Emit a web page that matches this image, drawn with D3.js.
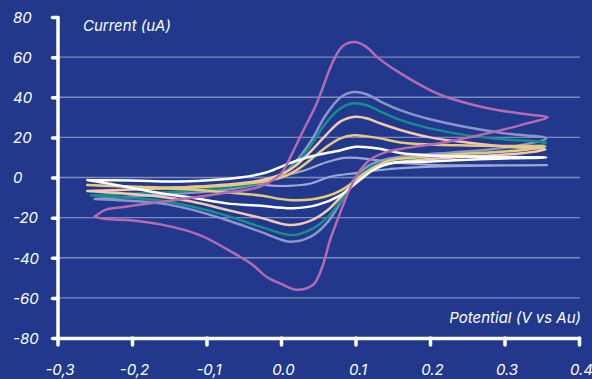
<!DOCTYPE html>
<html>
<head>
<meta charset="utf-8">
<script src="https://cdn.jsdelivr.net/npm/d3@7"></script>
<style>
  html, body { margin: 0; padding: 0; background: #22388c; }
  svg { display: block; }
  text { font-family: Inter, Roboto, "Liberation Sans", sans-serif; font-style: italic; fill: #ffffff; }
</style>
</head>
<body>
<svg id="chart" width="592" height="379"></svg>
<script>
// ---- data (potential in V, current in uA) ----
const xTicks = [-0.3, -0.2, -0.1, 0.0, 0.1, 0.2, 0.3, 0.4];
const xTickLabels = ["-0,3", "-0,2", "-0,1", "0.0", "0.1", "0.2", "0.3", "0.4"];
const yTicks = [80, 60, 40, 20, 0, -20, -40, -60, -80];
const yTickLabels = ["80", "60", "40", "20", "0", "-20", "-40", "-60", "-80"];
const gridValues = [60, 40, 20, 0, -20, -40, -60];

const seriesNames = ["periwinkle", "lavender", "teal", "peach", "gold", "white", "magenta"];
const seriesColors = ["#9ea6d6", "#8e95c8", "#11908c", "#f6c8b0", "#e7c87d", "#ffffff", "#b56bb0"];

const periwinkle = [
  [-0.038,-2.8],[-0.010,-1.0],[0.012,1.5],[0.035,4.0],[0.060,7.5],[0.085,9.8],[0.105,9.7],
  [0.140,8.0],[0.200,6.3],[0.260,6.0],[0.357,6.2],
  [0.300,6.0],[0.230,5.7],[0.180,5.0],[0.140,4.0],[0.100,2.2],[0.066,0.4],[0.040,-3.0],
  [0.010,-4.2],[-0.020,-3.8],[-0.038,-2.8]
];
const lavender = [
  [-0.250,-10.7],[-0.200,-9.5],[-0.136,-8.0],[-0.072,-6.0],[-0.028,-3.0],[0.000,1.0],[0.020,8.0],
  [0.040,18.0],[0.060,31.0],[0.080,40.0],[0.095,42.5],[0.115,41.5],[0.133,38.0],[0.160,33.6],
  [0.200,29.0],[0.250,25.0],[0.300,22.0],[0.356,19.5],
  [0.320,16.0],[0.280,14.0],[0.230,12.5],[0.180,11.0],[0.140,9.0],[0.118,6.0],[0.100,0.0],
  [0.082,-11.0],[0.062,-22.5],[0.040,-29.5],[0.012,-32.0],[-0.028,-27.0],[-0.073,-21.2],
  [-0.120,-16.0],[-0.162,-12.9],[-0.210,-11.5],[-0.250,-10.7]
];
const teal = [
  [-0.255,-9.0],[-0.200,-8.0],[-0.136,-7.0],[-0.072,-5.0],[-0.028,-2.5],[0.000,1.0],[0.020,7.0],
  [0.040,16.0],[0.060,27.0],[0.080,34.5],[0.097,37.0],[0.115,36.0],[0.133,33.0],[0.160,28.7],
  [0.200,24.5],[0.250,21.0],[0.300,19.0],[0.356,17.3],
  [0.320,14.0],[0.280,12.5],[0.230,11.0],[0.180,9.5],[0.140,7.5],[0.118,4.5],[0.100,-1.0],
  [0.082,-10.5],[0.062,-20.0],[0.040,-26.0],[0.015,-28.7],[-0.028,-24.5],[-0.073,-19.0],
  [-0.120,-14.5],[-0.162,-11.5],[-0.210,-10.0],[-0.255,-9.0]
];
const peach = [
  [-0.260,-6.7],[-0.200,-6.0],[-0.136,-5.0],[-0.072,-3.5],[-0.028,-1.5],[0.000,1.5],[0.020,6.0],
  [0.040,13.0],[0.060,21.0],[0.080,28.0],[0.100,30.3],[0.115,29.5],[0.133,27.0],[0.160,23.7],
  [0.200,20.0],[0.250,17.5],[0.300,15.5],[0.355,14.0],
  [0.320,12.0],[0.280,11.0],[0.230,10.0],[0.180,8.5],[0.140,6.5],[0.118,3.5],[0.100,-1.5],
  [0.082,-9.0],[0.062,-16.5],[0.040,-21.5],[0.012,-23.7],[-0.028,-20.0],[-0.072,-16.2],
  [-0.120,-12.0],[-0.162,-9.6],[-0.210,-8.0],[-0.260,-6.7]
];
const gold = [
  [-0.260,-3.8],[-0.200,-4.5],[-0.136,-5.0],[-0.072,-4.0],[-0.024,-2.0],[0.000,0.0],[0.020,3.5],
  [0.040,9.0],[0.060,15.0],[0.080,19.5],[0.097,21.0],[0.115,20.5],[0.133,19.5],[0.160,17.5],
  [0.200,16.5],[0.250,16.0],[0.300,15.7],[0.355,15.4],
  [0.320,13.5],[0.280,12.5],[0.230,11.5],[0.180,10.0],[0.146,8.5],[0.122,4.5],[0.100,-1.5],
  [0.080,-6.5],[0.060,-9.5],[0.040,-11.0],[0.010,-11.2],[-0.028,-9.0],[-0.072,-7.5],
  [-0.120,-6.0],[-0.162,-5.4],[-0.210,-4.5],[-0.260,-3.8]
];
const white = [
  [-0.260,-1.2],[-0.200,-1.5],[-0.136,-2.0],[-0.055,0.0],[-0.020,2.5],[0.012,7.2],[0.040,10.5],
  [0.079,13.5],[0.100,15.3],[0.130,14.5],[0.160,12.2],[0.200,11.0],[0.250,10.5],[0.300,10.2],
  [0.356,10.0],
  [0.300,9.5],[0.250,8.8],[0.200,8.0],[0.146,7.0],[0.125,4.0],[0.105,-1.5],[0.079,-9.0],
  [0.050,-13.5],[0.016,-15.3],[-0.030,-14.0],[-0.073,-12.9],[-0.120,-10.0],[-0.162,-7.9],
  [-0.210,-4.5],[-0.260,-1.2]
];
const magenta = [
  [-0.250,-19.5],[-0.235,-16.0],[-0.207,-14.5],[-0.162,-12.2],[-0.118,-10.0],[-0.072,-7.5],
  [-0.028,-4.5],[0.000,2.0],[0.015,12.0],[0.028,22.0],[0.048,37.0],[0.070,58.0],[0.083,65.5],
  [0.099,67.5],[0.115,65.0],[0.129,60.0],[0.160,52.0],[0.200,43.6],[0.223,40.0],[0.260,36.0],
  [0.290,33.6],[0.330,31.5],[0.358,30.0],
  [0.330,27.0],[0.311,25.0],[0.267,21.2],[0.223,17.7],[0.177,15.2],[0.140,12.5],[0.120,9.0],
  [0.105,3.0],[0.092,-6.0],[0.078,-19.0],[0.066,-31.0],[0.055,-45.0],[0.043,-53.5],[0.021,-56.0],
  [0.000,-53.0],[-0.019,-49.6],[-0.040,-43.0],[-0.064,-37.6],[-0.109,-28.7],[-0.160,-23.5],
  [-0.207,-21.2],[-0.240,-20.5],[-0.250,-19.5]
];
const seriesData = [periwinkle, lavender, teal, peach, gold, white, magenta];

// ---- drawing ----
const svg = d3.select("#chart");
const W = 592, H = 379;
svg.append("rect").attr("width", W).attr("height", H).attr("fill", "#22388c");

const x = d3.scaleLinear().domain([-0.3, 0.4]).range([57.5, 579]);
const y = d3.scaleLinear().domain([-80, 80]).range([338, 17]);

// gridlines
svg.append("g").selectAll("line").data(gridValues).join("line")
  .attr("x1", x(-0.3)).attr("x2", 580)
  .attr("y1", d => y(d)).attr("y2", d => y(d))
  .attr("stroke", "rgba(255,255,255,0.42)").attr("stroke-width", 1.3);

// curves
const line = d3.line().x(d => x(d[0])).y(d => y(d[1])).curve(d3.curveCatmullRom.alpha(0.5));
svg.append("g").selectAll("path").data(seriesData).join("path")
  .attr("d", d => line(d))
  .attr("fill", "none")
  .attr("stroke", (d, i) => seriesColors[i])
  .attr("stroke-width", (d, i) => i === 0 ? 2.2 : 2.5)
  .attr("stroke-linejoin", "round")
  .attr("stroke-linecap", "round");

// axes
const yAxis = d3.axisLeft(y).tickValues(yTicks).tickSize(5).tickSizeOuter(0)
  .tickFormat((d, i) => yTickLabels[i]);
const gy = svg.append("g").attr("transform", `translate(${x(-0.3)},0)`).call(yAxis);

const xAxis = d3.axisBottom(x).tickValues(xTicks).tickSize(7).tickSizeOuter(0)
  .tickFormat((d, i) => xTickLabels[i]);
const gx = svg.append("g").attr("transform", `translate(0,${y(-80)})`).call(xAxis);

[gx, gy].forEach(g => {
  g.select(".domain").attr("stroke", "#fff").attr("stroke-width", 3.5).attr("stroke-linecap", "round");
  g.selectAll(".tick line").attr("stroke", "#fff").attr("stroke-width", 3.5).attr("stroke-linecap", "round");
  g.selectAll(".tick text").attr("fill", "#fff").style("font-size", "15px")
    .style("font-family", "Inter, Roboto, 'Liberation Sans', sans-serif").style("font-style", "italic");
});
gy.selectAll(".tick text").attr("text-anchor", "start").attr("x", 13 - x(-0.3)).attr("dy", "0.35em");
gx.selectAll(".tick text").attr("y", 32).attr("dy", "0.35em").attr("dx", 2);

// axis titles
svg.append("text").attr("x", 83).attr("y", 31).attr("font-size", 15).text("Current (uA)");
svg.append("text").attr("x", 581).attr("y", 323).attr("font-size", 15)
  .attr("text-anchor", "end").text("Potential (V vs Au)");
</script>
</body>
</html>
